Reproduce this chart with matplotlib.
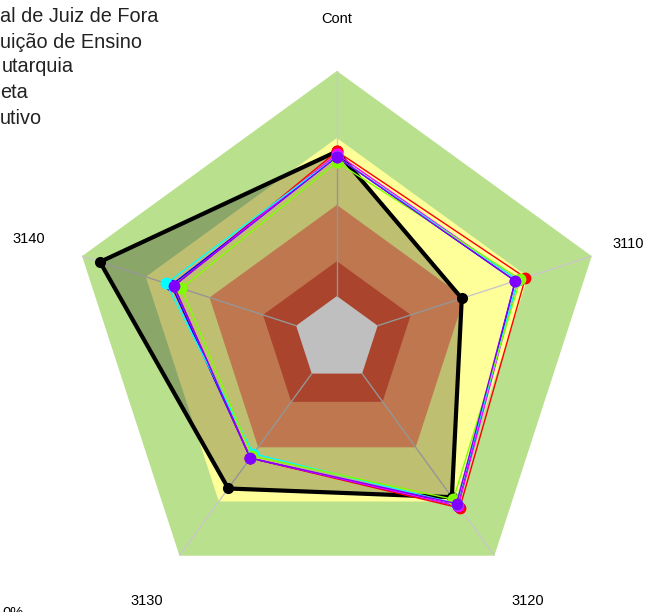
import numpy as np
import matplotlib.pyplot as plt

plt.rcParams['font.family'] = ['Liberation Sans', 'DejaVu Sans']

# eixos do radar
categorias = ['Cont', '3110', '3120', '3130', '3140']
raio_rotulos = [119.5, 114.5, 121, 121, 121]

# faixas de fundo (limite externo de cada faixa, em %)
faixas = [16, 29, 50, 75, 100]
cores_faixas = ['#ffffff', '#e35b3c', '#ffa06b', '#ffff99', '#b9e08d']

# series (%)
serie_preta = [70, 49, 73, 69, 93]
serie_vermelha = [70, 74, 78, 55, 64]
serie_azul = [68, 70, 77, 55, 65]
serie_magenta = [69, 71, 77, 55, 64]
serie_ciano = [68, 71, 76, 53, 67]
serie_verde = [66, 72, 74, 54, 61]
serie_roxa = [68, 70, 76, 55, 64]

legenda = ['al de Juiz de Fora', 'uição de Ensino', 'utarquia', 'eta', 'utivo']
legenda_x = [0, 0, 2, 0, 0]
legenda_y = [17, 42, 67, 93, 118]

fig = plt.figure(figsize=(6.64, 6.12), dpi=100)
ax = fig.add_axes([0.1039, 0.0082, 0.807, 0.876], projection='polar')
ax.set_theta_offset(np.pi / 2)
ax.set_theta_direction(-1)

theta = np.linspace(0, 2 * np.pi, len(categorias), endpoint=False)
tf = np.append(theta, theta[0])

def fechar(v):
    return list(v) + [v[0]]

# fundo em faixas
for r, c in sorted(zip(faixas, cores_faixas), reverse=True):
    ax.fill(tf, [r] * len(tf), color=c, lw=0, zorder=1)

# raios
for t in theta:
    ax.plot([t, t], [faixas[0], 100], color='#c8c8c8', lw=1, zorder=2)

# serie principal preenchida
ax.fill(tf, fechar(serie_preta), color='black', alpha=0.25, lw=0, zorder=3)
ax.plot(tf, fechar(serie_preta), color='black', lw=3, marker='o', ms=7, zorder=4)

outras = [
    (serie_vermelha, '#ff0000'),
    (serie_azul, '#0000ff'),
    (serie_magenta, '#ff00ff'),
    (serie_ciano, '#00ffff'),
    (serie_verde, '#80ff00'),
    (serie_roxa, '#8000ff'),
]
for i, (v, c) in enumerate(outras):
    ax.plot(tf, fechar(v), color=c, lw=1, marker='o', ms=7.5, zorder=5 + i)

ax.set_ylim(0, 100)
ax.set_axis_off()

for t, lab, r in zip(theta, categorias, raio_rotulos):
    ax.text(t, r, lab, ha='center', va='center', fontsize=10.5, clip_on=False)

for s, x, y in zip(legenda, legenda_x, legenda_y):
    fig.text(x / 664, 1 - y / 612, s, fontsize=14.3, ha='left', va='center', color='#222222')

fig.text(2 / 664, 1 - 606 / 612, '0%', fontsize=10.5, ha='left', va='top')

fig.savefig('out.png', dpi=100)
